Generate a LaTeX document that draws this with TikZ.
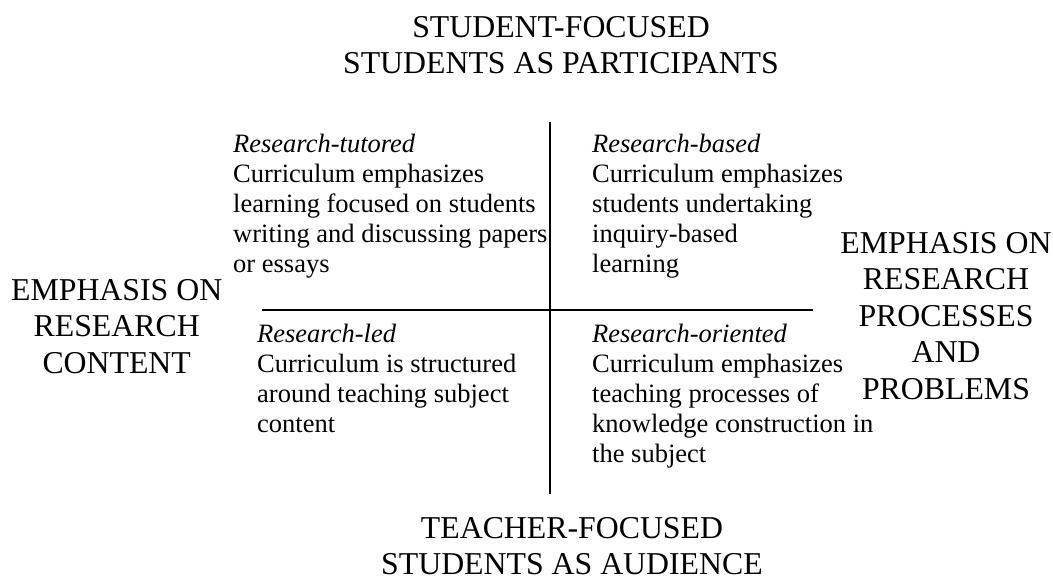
\documentclass[tikz,border=0pt]{standalone}
\usepackage{fontspec}
\setmainfont{Liberation Serif}
\newcommand{\bodySize}[0]{\fontsize{26.5}{30}\selectfont}
\newcommand{\capsSize}[0]{\fontsize{31.8}{36.5}\selectfont}

\begin{document}
\begin{tikzpicture}[x=1pt, y=-1pt]
  \tikzset{quadtext/.style={align=left, anchor=north west, inner sep=0pt, font=\bodySize},
           axislabel/.style={align=center, anchor=north, inner sep=0pt, font=\capsSize},
           axisline/.style={line width=1.6pt}}
  \useasboundingbox (0,0) rectangle (1053,581);
  % axes
  \coordinate (axisN) at (550,122);
  \coordinate (axisS) at (550,494);
  \coordinate (axisW) at (262,310);
  \coordinate (axisE) at (813,310);
  \draw[axisline] (axisN) -- (axisS);
  \draw[axisline] (axisW) -- (axisE);
  % axis labels
  \node[axislabel] (studentFocused) at (561,11.5)
    {\strut STUDENT-FOCUSED\\STUDENTS AS PARTICIPANTS};
  \node[axislabel] (teacherFocused) at (572,512.5)
    {\strut TEACHER-FOCUSED\\STUDENTS AS AUDIENCE};
  \node[axislabel] (contentSide) at (116.7,274.5)
    {\strut EMPHASIS ON\\RESEARCH\\CONTENT};
  \node[axislabel] (processSide) at (946,227.5)
    {\strut EMPHASIS ON\\RESEARCH\\PROCESSES\\AND\\PROBLEMS};
  % quadrants
  \node[quadtext] (tutored) at (233,131)
    {\strut\textit{Research-tutored}\\Curriculum emphasizes\\learning focused on students\\writing and discussing papers\\or essays};
  \node[quadtext] (based) at (592,131)
    {\strut\textit{Research-based}\\Curriculum emphasizes\\students undertaking\\inquiry-based\\learning};
  \node[quadtext] (led) at (257,321)
    {\strut\textit{Research-led}\\Curriculum is structured\\around teaching subject\\content};
  \node[quadtext] (oriented) at (592,321)
    {\strut\textit{Research-oriented}\\Curriculum emphasizes\\teaching processes of\\knowledge construction in\\the subject};
\end{tikzpicture}
\end{document}
